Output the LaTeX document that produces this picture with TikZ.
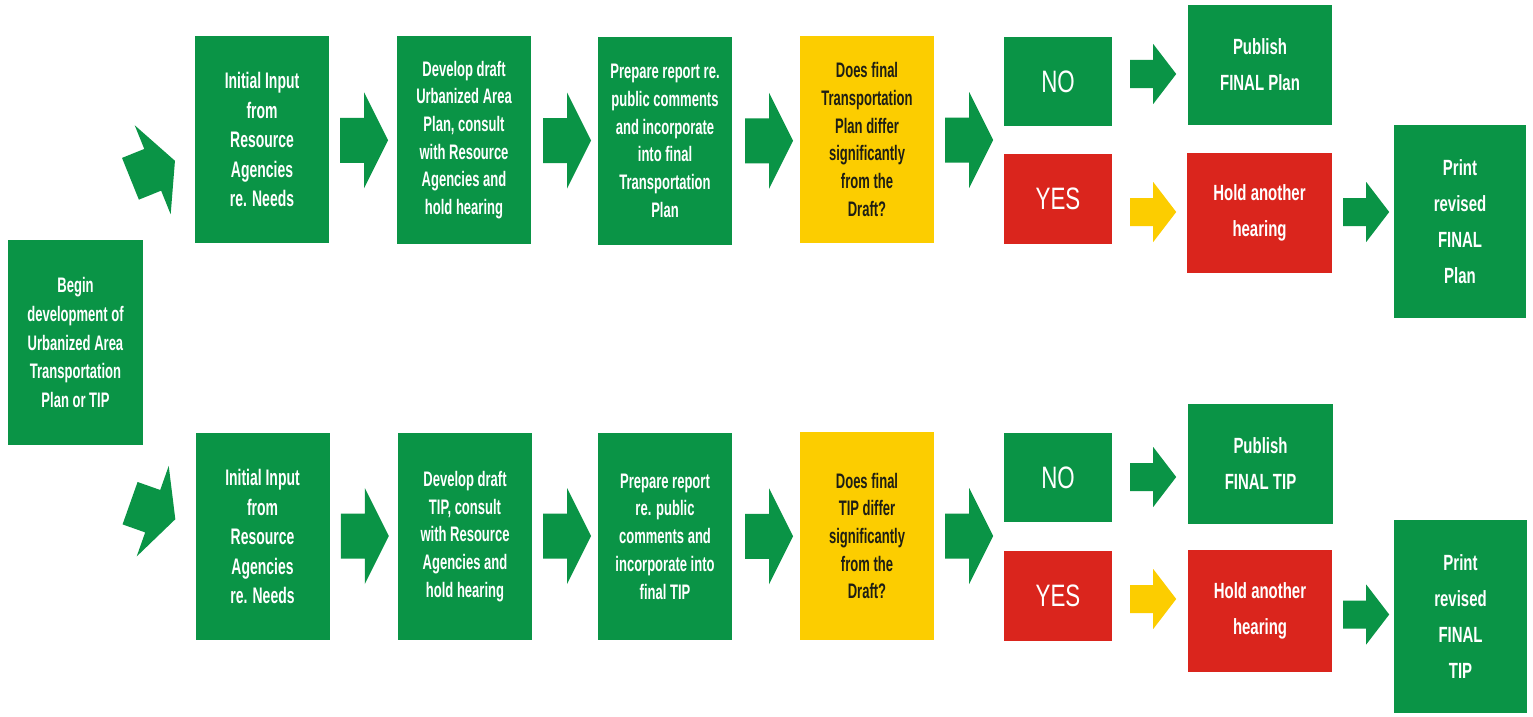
\documentclass[tikz,border=0pt]{standalone}
\usepackage{fontspec}
\setmainfont{Liberation Sans}
\newfontfamily\nfont{Liberation Sans}[FakeStretch=0.62]
\newfontfamily\rfont{Liberation Sans}[FakeStretch=0.68]
\newfontfamily\yfont{Liberation Sans}[FakeStretch=0.72]
\usetikzlibrary{calc}
\definecolor{agreen}{RGB}{10,148,70}
\definecolor{ared}{RGB}{218,37,29}
\definecolor{ayellow}{RGB}{252,205,0}
\definecolor{atext}{RGB}{30,30,20}
\tikzset{
  box/.style={fill=agreen, text=white, inner sep=0pt, align=center,
    font=\nfont\bfseries\fontsize{21}{27.7}\selectfont},
  bigbox/.style={box, minimum width=134pt, minimum height=207pt},
  qbox/.style={bigbox, fill=ayellow, text=atext},
  rbox/.style={box, font=\rfont\bfseries\fontsize{22}{36}\selectfont},
  ansbox/.style={box, minimum width=108pt, minimum height=90pt,
    font=\yfont\fontsize{31}{36}\selectfont},
  bigarrow/.pic={\path[pic actions] (-24,-22.5) -- (0,-22.5) -- (0,-48) -- (24,0)
    -- (0,48) -- (0,22.5) -- (-24,22.5) -- cycle;},
  smallarrow/.pic={\path[pic actions] (-23,-14) -- (0,-14) -- (0,-30) -- (23,0)
    -- (0,30) -- (0,14) -- (-23,14) -- cycle;},
}
\begin{document}
\begin{tikzpicture}[x=1pt,y=-1pt]
\fill[white] (0,0) rectangle (1533,717);
\useasboundingbox (0,0) rectangle (1533,717);

% start
\node[box, minimum width=135pt, minimum height=205pt,
  font=\nfont\bfseries\fontsize{21}{28.8}\selectfont] (begin) at (75.5,342.5)
  {Begin\\development of\\Urbanized Area\\Transportation\\Plan or TIP};

% ---------- top row ----------
\node[bigbox, font=\nfont\bfseries\fontsize{22.5}{29.5}\selectfont] (init1) at (262,139.5)
  {Initial Input\\from\\Resource\\Agencies\\re. Needs};
\node[bigbox] (dev1) at (464,140)
  {Develop draft\\Urbanized Area\\Plan, consult\\with Resource\\Agencies and\\hold hearing};
\node[bigbox] (prep1) at (665,141)
  {Prepare report re.\\public comments\\and incorporate\\into final\\Transportation\\Plan};
\node[qbox] (q1) at (867,139.5)
  {Does final\\Transportation\\Plan differ\\significantly\\from the\\Draft?};
\node[ansbox, minimum height=89pt] (no1) at (1058,81.5) {NO};
\node[ansbox, fill=ared] (yes1) at (1058,199) {YES};
\node[rbox, minimum width=144pt, minimum height=120pt] (pub1) at (1260,65)
  {Publish\\FINAL Plan};
\node[rbox, fill=ared, minimum width=145pt, minimum height=120pt] (hold1) at (1259.5,213)
  {Hold another\\hearing};
\node[rbox, minimum width=132pt, minimum height=193pt] (print1) at (1460,221.5)
  {Print\\revised\\FINAL\\Plan};

% ---------- bottom row ----------
\node[bigbox, font=\nfont\bfseries\fontsize{22.5}{29.5}\selectfont] (init2) at (262.5,536.5)
  {Initial Input\\from\\Resource\\Agencies\\re. Needs};
\node[bigbox] (dev2) at (465,536.5)
  {Develop draft\\TIP, consult\\with Resource\\Agencies and\\hold hearing};
\node[bigbox] (prep2) at (665,536.5)
  {Prepare report\\re. public\\comments and\\incorporate into\\final TIP};
\node[qbox, minimum height=208pt] (q2) at (867,536)
  {Does final\\TIP differ\\significantly\\from the\\Draft?};
\node[ansbox, minimum height=89pt] (no2) at (1058,477.5) {NO};
\node[ansbox, fill=ared] (yes2) at (1058,596) {YES};
\node[rbox, minimum width=145pt, minimum height=120pt] (pub2) at (1260.5,464)
  {Publish\\FINAL TIP};
\node[rbox, fill=ared, minimum width=144pt, minimum height=122pt] (hold2) at (1260,611)
  {Hold another\\hearing};
\node[rbox, minimum width=133pt, minimum height=193pt] (print2) at (1460.5,616.5)
  {Print\\revised\\FINAL\\TIP};

% ---------- block arrows ----------
\pic[fill=agreen, rotate=22] at ($(begin.north east)+(9.5,-70)$) {bigarrow};
\pic[fill=agreen, rotate=-19.5] at ($(begin.south east)+(9.5,66)$) {bigarrow};

\pic[fill=agreen] at ($(init1.east)!0.5!(dev1.west)+(1,0.5)$) {bigarrow};
\pic[fill=agreen] at ($(dev1.east)!0.5!(prep1.west)+(2.5,0)$) {bigarrow};
\pic[fill=agreen] at ($(prep1.east)!0.5!(q1.west)+(3,0.5)$) {bigarrow};
\pic[fill=agreen] at ($(q1.east)+(35,0.5)$) {bigarrow};
\pic[fill=agreen] at ($(no1.east)+(41,-7.5)$) {smallarrow};
\pic[fill=ayellow] at ($(yes1.east)+(41,13)$) {smallarrow};
\pic[fill=agreen] at ($(hold1.east)+(34,-1)$) {smallarrow};

\pic[fill=agreen] at ($(init2.east)!0.5!(dev2.west)+(1,-0.5)$) {bigarrow};
\pic[fill=agreen] at ($(dev2.east)!0.5!(prep2.west)+(2,-0.5)$) {bigarrow};
\pic[fill=agreen] at ($(prep2.east)!0.5!(q2.west)+(3,0)$) {bigarrow};
\pic[fill=agreen] at ($(q2.east)+(35,0)$) {bigarrow};
\pic[fill=agreen] at ($(no2.east)+(41,-0.5)$) {smallarrow};
\pic[fill=ayellow] at ($(yes2.east)+(41,3)$) {smallarrow};
\pic[fill=agreen] at ($(hold2.east)+(34,3.5)$) {smallarrow};
\end{tikzpicture}
\end{document}
